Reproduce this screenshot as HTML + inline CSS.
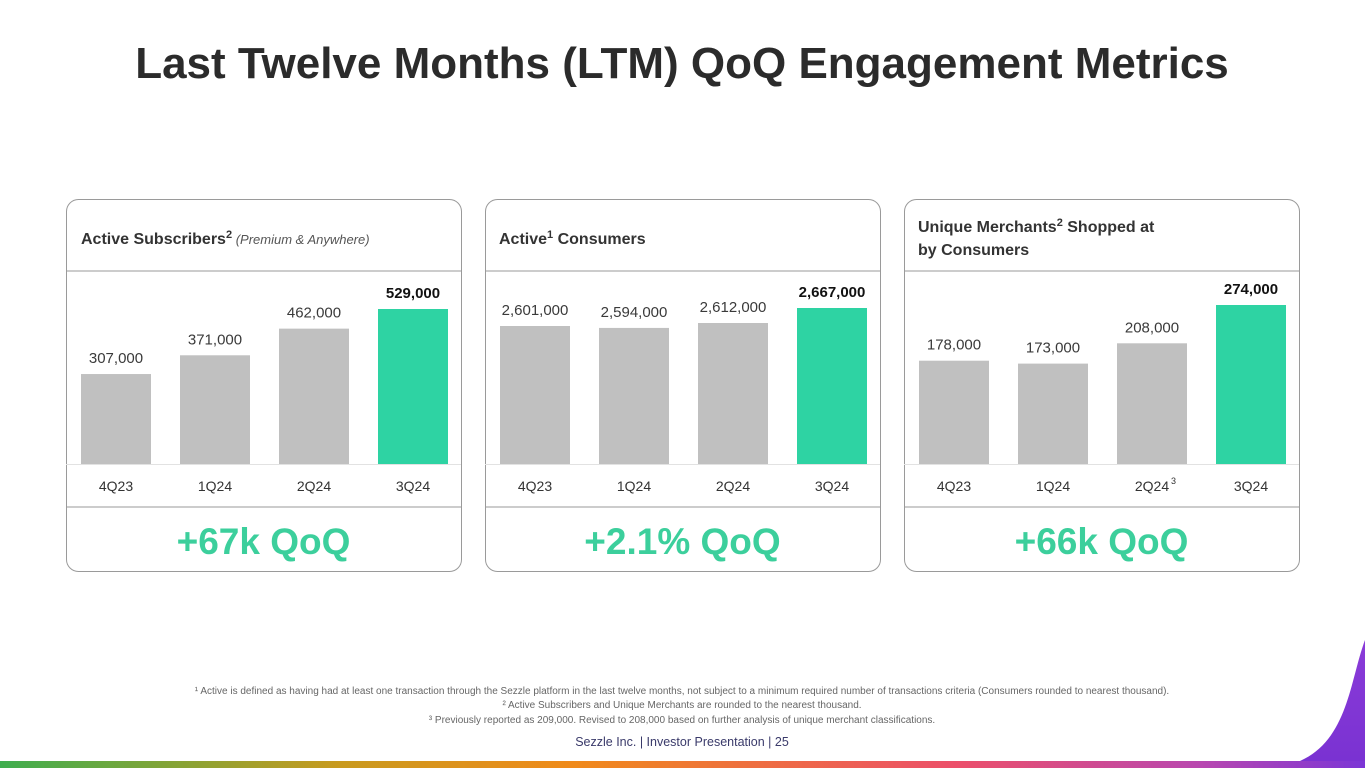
<!DOCTYPE html>
<html><head><meta charset="utf-8"><style>
body{margin:0;width:1365px;height:768px;background:#fff;overflow:hidden;font-family:"Liberation Sans",sans-serif;position:relative}
svg{position:absolute;left:0;top:0}
</style></head><body>
<svg width="1365" height="768">
<defs>
<linearGradient id="strip" x1="0" x2="1" y1="0" y2="0">
<stop offset="0" stop-color="#3fae4f"/><stop offset="0.25" stop-color="#c99a1e"/><stop offset="0.42" stop-color="#f08a1a"/><stop offset="0.7" stop-color="#ec4f6a"/><stop offset="0.88" stop-color="#b847b0"/><stop offset="1" stop-color="#7b35d6"/>
</linearGradient>
<linearGradient id="corner" x1="0" x2="0" y1="0" y2="1"><stop offset="0" stop-color="#8a3bd8"/><stop offset="1" stop-color="#7a32d2"/></linearGradient>
</defs>
<text x="682" y="78" text-anchor="middle" font-size="44" font-weight="bold" fill="#2b2b2b">Last Twelve Months (LTM) QoQ Engagement Metrics</text>
<path d="M1365 640 C1350 680 1348 740 1300 761 L1365 761 Z" fill="url(#corner)"/>
<rect x="0" y="761" width="1365" height="7" fill="url(#strip)"/>
<g font-size="10" fill="#666" text-anchor="middle">
<text x="682" y="694">¹ Active is defined as having had at least one transaction through the Sezzle platform in the last twelve months, not subject to a minimum required number of transactions criteria (Consumers rounded to nearest thousand).</text>
<text x="682" y="708">² Active Subscribers and Unique Merchants are rounded to the nearest thousand.</text>
<text x="682" y="723">³ Previously reported as 209,000. Revised to 208,000 based on further analysis of unique merchant classifications.</text>
</g>
<text x="682" y="746" text-anchor="middle" font-size="12.5" fill="#3a3a6a">Sezzle Inc. | Investor Presentation | 25</text>
<g id="charts"></g>
</svg>
<script>
const categories = ["4Q23","1Q24","2Q24","3Q24"];
const subscribers = [307000,371000,462000,529000];
const consumers = [2601000,2594000,2612000,2667000];
const merchants = [178000,173000,208000,274000];
const subLabels = ["307,000","371,000","462,000","529,000"];
const conLabels = ["2,601,000","2,594,000","2,612,000","2,667,000"];
const merLabels = ["178,000","173,000","208,000","274,000"];
const qoqTexts = ["+67k QoQ","+2.1% QoQ","+66k QoQ"];

const NS="http://www.w3.org/2000/svg";
const g=document.getElementById('charts');
function mk(tag,attrs,parent){const e=document.createElementNS(NS,tag);for(const k in attrs)e.setAttribute(k,attrs[k]);(parent||g).appendChild(e);return e;}

const cards=[
 {x:66,vals:subscribers,labels:subLabels,min:0,max:529000,h:155,name:"active-subscribers",cats:categories},
 {x:485,vals:consumers,labels:conLabels,min:2095000,max:2667000,h:156,name:"active-consumers",cats:categories},
 {x:904,vals:merchants,labels:merLabels,min:0,max:274000,h:159,name:"unique-merchants",cats:categories}
];
const W=395,cardTop=199,cardBot=571,base=464;
cards.forEach((c,ci)=>{
 const grp=mk('g',{});
 
 
 mk('rect',{x:c.x+0.5,y:cardTop+0.5,width:W,height:cardBot-cardTop,rx:12,fill:"#fff",stroke:"#9a9a9a","stroke-width":1},grp);
 mk('line',{x1:c.x,x2:c.x+W,y1:271,y2:271,stroke:"#9a9a9a"},grp);
 mk('line',{x1:c.x,x2:c.x+W,y1:464.5,y2:464.5,stroke:"#e2e2e2"},grp);
 mk('line',{x1:c.x,x2:c.x+W,y1:507,y2:507,stroke:"#9a9a9a"},grp);
 const yScale=v=>base-(v-c.min)/(c.max-c.min)*c.h;
 c.vals.forEach((v,i)=>{
  const bx=c.x+15+i*99;
  const y=yScale(v);
  const r=mk('rect',{x:bx,y:y,width:70,height:base-y,fill:i==3?"#2ed3a3":"#c0c0c0"},grp);
  
  
  const t=mk('text',{x:bx+35,y:y-11,"text-anchor":"middle","font-size":15,fill:i==3?"#111":"#3a3a3a","font-weight":i==3?"bold":"normal"},grp);
  t.textContent=c.labels[i];
  
  
  const ct=mk('text',{x:bx+35,y:491,"text-anchor":"middle","font-size":14,fill:"#333"},grp);
  ct.textContent=c.cats[i];
  
  
  if(ci==2&&i==2){const s=mk('text',{x:bx+54,y:484,"font-size":9,fill:"#333"},grp);s.textContent="3";}
 });
 const q=mk('text',{x:c.x+W/2,y:554,"text-anchor":"middle","font-size":37,"font-weight":"bold",fill:"#3ccf9c"},grp);
 q.textContent=qoqTexts[ci];
 
 
});
function title(x,y,html,name){const t=mk('text',{x:x,y:y,"font-size":16,"font-weight":"bold",fill:"#333"});t.innerHTML=html;}
title(81,244,'Active Subscribers<tspan font-size="11" dy="-6">2</tspan><tspan dy="6" font-weight="normal" font-style="italic" font-size="13" fill="#555"> (Premium &amp; Anywhere)</tspan>','subscribers-title');
title(499,244,'Active<tspan font-size="11" dy="-6">1</tspan><tspan dy="6"> Consumers</tspan>','consumers-title');
title(918,232,'Unique Merchants<tspan font-size="11" dy="-6">2</tspan><tspan dy="6"> Shopped at</tspan>','merchants-title');
title(918,255,'by Consumers','merchants-title-line2');
</script>
</body></html>
